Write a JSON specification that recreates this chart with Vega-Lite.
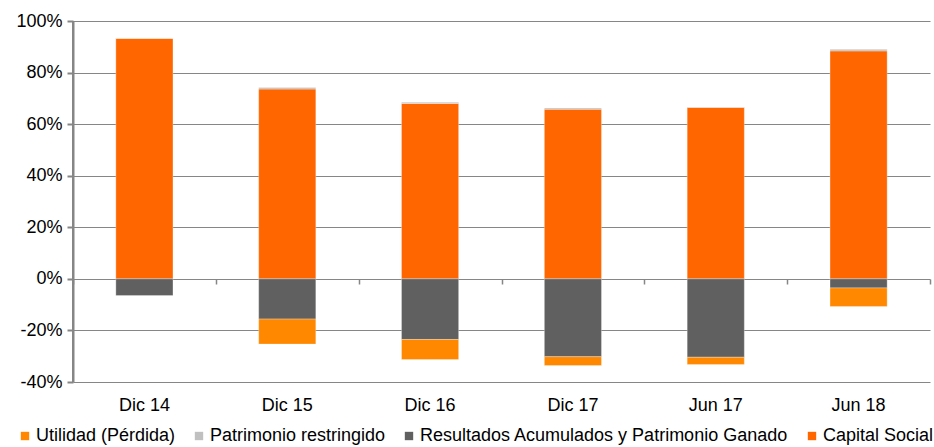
{
  "$schema": "https://vega.github.io/schema/vega-lite/v6.json",
  "autosize": "none",
  "width": 857,
  "height": 361,
  "padding": {"left": 73, "top": 21, "right": 4, "bottom": 65},
  "background": "white",
  "config": {
    "font": "Liberation Sans",
    "view": {"stroke": null}
  },
  "data": {
    "values": [
      {"periodo": "Dic 14", "serie": "Capital Social", "valor": 93.3},
      {"periodo": "Dic 14", "serie": "Patrimonio restringido", "valor": 0.0},
      {"periodo": "Dic 14", "serie": "Resultados Acumulados y Patrimonio Ganado", "valor": -6.5},
      {"periodo": "Dic 14", "serie": "Utilidad (Pérdida)", "valor": 0.0},
      {"periodo": "Dic 15", "serie": "Capital Social", "valor": 73.6},
      {"periodo": "Dic 15", "serie": "Patrimonio restringido", "valor": 0.6},
      {"periodo": "Dic 15", "serie": "Resultados Acumulados y Patrimonio Ganado", "valor": -15.6},
      {"periodo": "Dic 15", "serie": "Utilidad (Pérdida)", "valor": -9.7},
      {"periodo": "Dic 16", "serie": "Capital Social", "valor": 68.0},
      {"periodo": "Dic 16", "serie": "Patrimonio restringido", "valor": 0.5},
      {"periodo": "Dic 16", "serie": "Resultados Acumulados y Patrimonio Ganado", "valor": -23.5},
      {"periodo": "Dic 16", "serie": "Utilidad (Pérdida)", "valor": -7.8},
      {"periodo": "Dic 17", "serie": "Capital Social", "valor": 65.8},
      {"periodo": "Dic 17", "serie": "Patrimonio restringido", "valor": 0.5},
      {"periodo": "Dic 17", "serie": "Resultados Acumulados y Patrimonio Ganado", "valor": -30.2},
      {"periodo": "Dic 17", "serie": "Utilidad (Pérdida)", "valor": -3.4},
      {"periodo": "Jun 17", "serie": "Capital Social", "valor": 66.5},
      {"periodo": "Jun 17", "serie": "Patrimonio restringido", "valor": 0.1},
      {"periodo": "Jun 17", "serie": "Resultados Acumulados y Patrimonio Ganado", "valor": -30.4},
      {"periodo": "Jun 17", "serie": "Utilidad (Pérdida)", "valor": -2.8},
      {"periodo": "Jun 18", "serie": "Capital Social", "valor": 88.4},
      {"periodo": "Jun 18", "serie": "Patrimonio restringido", "valor": 0.6},
      {"periodo": "Jun 18", "serie": "Resultados Acumulados y Patrimonio Ganado", "valor": -3.5},
      {"periodo": "Jun 18", "serie": "Utilidad (Pérdida)", "valor": -7.2}
    ]
  },
  "layer": [
    {
      "mark": {"type": "bar", "stroke": "white", "strokeWidth": 0.6, "strokeOpacity": 0.5},
      "encoding": {
        "x": {
          "field": "periodo",
          "type": "nominal",
          "sort": null,
          "scale": {"paddingInner": 0.6, "paddingOuter": 0.3},
          "axis": {
            "title": null,
            "labelAngle": 0,
            "labelFontSize": 18,
            "labelColor": "black",
            "ticks": false,
            "domain": false,
            "labelPadding": 14
          }
        },
        "y": {
          "field": "valor",
          "type": "quantitative",
          "stack": "zero",
          "scale": {"domain": [-40, 100], "nice": false},
          "axis": {
            "title": null,
            "values": [-40, -20, 0, 20, 40, 60, 80, 100],
            "labelExpr": "datum.value + '%'",
            "labelFontSize": 18,
            "labelColor": "black",
            "labelPadding": 5,
            "domain": true,
            "domainColor": "#868686",
            "domainWidth": 2,
            "ticks": true,
            "tickSize": 6,
            "tickWidth": 2,
            "tickColor": "#868686",
            "grid": true,
            "gridColor": "#868686",
            "gridWidth": 1.2
          }
        },
        "color": {
          "field": "serie",
          "type": "nominal",
          "scale": {
            "domain": ["Utilidad (Pérdida)", "Patrimonio restringido", "Resultados Acumulados y Patrimonio Ganado", "Capital Social"],
            "range": ["#FF8800", "#C0C0C0", "#606060", "#FF6600"]
          },
          "legend": {
            "title": null,
            "orient": "none",
            "legendX": -57,
            "legendY": 406,
            "direction": "horizontal",
            "symbolType": "square",
            "symbolSize": 70,
            "symbolStrokeWidth": 0,
            "labelFontSize": 18,
            "labelColor": "black",
            "labelOffset": 2,
            "columnPadding": 14,
            "labelLimit": 500
          }
        },
        "order": {"field": "serie", "sort": "ascending"}
      }
    },
    {
      "mark": {"type": "tick", "opacity": 0},
      "encoding": {
        "x": {
          "field": "periodo",
          "type": "nominal",
          "sort": null,
          "scale": {"paddingInner": 0, "paddingOuter": 0},
          "axis": {
            "orient": "bottom",
            "offset": -103,
            "labels": false,
            "title": null,
            "domain": false,
            "ticks": true,
            "tickSize": 5,
            "tickWidth": 1.5,
            "tickColor": "#868686",
            "tickBand": "extent",
            "zindex": 0
          }
        },
        "y": {"value": 0}
      }
    },
    {
      "mark": {"type": "rule", "color": "#868686", "strokeWidth": 2},
      "encoding": {
        "x": {
          "datum": "Dic 14",
          "type": "nominal",
          "bandPosition": 0,
          "scale": {"domain": ["Dic 14"], "paddingInner": 0, "paddingOuter": 0},
          "axis": null
        },
        "y": {"datum": -40},
        "y2": {"datum": 100}
      }
    }
  ],
  "resolve": {"scale": {"x": "independent"}, "axis": {"x": "independent"}}
}
